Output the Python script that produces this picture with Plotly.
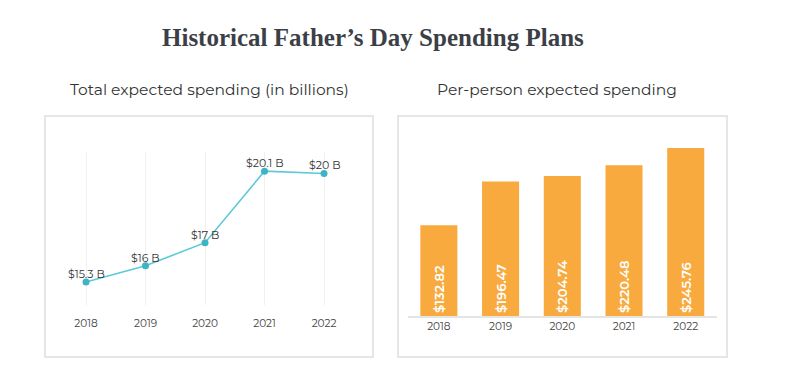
import plotly.graph_objects as go

years = ["2018", "2019", "2020", "2021", "2022"]
total_billions = [15.3, 16, 17, 20.1, 20]
total_labels = ["$15.3 B", "$16 B", "$17 B", "$20.1 B", "$20 B"]
per_person = [132.82, 196.47, 204.74, 220.48, 245.76]
per_person_labels = ["$132.82", "$196.47", "$204.74", "$220.48", "$245.76"]

W, H = 796, 372
SANS = "Montserrat, Lato, 'Open Sans', sans-serif"

def px(x):
    return x / W

def py(y):
    return 1 - y / H

fig = go.Figure()

fig.add_trace(go.Scatter(
    x=years, y=total_billions, mode="lines+markers",
    line=dict(color="#5cc9d8", width=1.6),
    marker=dict(color="#3db4c6", size=7),
    xaxis="x", yaxis="y", hoverinfo="skip", showlegend=False,
))

fig.add_trace(go.Bar(
    x=years, y=per_person, text=per_person_labels,
    textposition="inside", insidetextanchor="start", textangle=-90,
    textfont=dict(color="white", size=13, family=SANS, weight=600),
    marker=dict(color="#f9aa3e", line=dict(width=0)),
    xaxis="x2", yaxis="y2", hoverinfo="skip", showlegend=False,
))

annotations = [
    dict(x=i, y=v, xref="x", yref="y", text=t, showarrow=False,
         xanchor="center", yanchor="middle",
         yshift=8, font=dict(size=11, color="#333333", family=SANS))
    for i, (v, t) in enumerate(zip(total_billions, total_labels))
]
annotations += [
    dict(x=0.5 * (px(162) + px(583)), y=py(37), xref="paper", yref="paper",
         xanchor="center", yanchor="middle",
         text="<b>Historical Father\u2019s Day Spending Plans</b>", showarrow=False,
         font=dict(size=25, color="#3c3f47", family="'Liberation Serif', 'DejaVu Serif', serif")),
    dict(x=px(209), y=py(89), xref="paper", yref="paper",
         xanchor="center", yanchor="middle",
         text="Total expected spending (in billions)", showarrow=False,
         font=dict(size=15.5, color="#333333", family=SANS)),
    dict(x=px(557), y=py(89), xref="paper", yref="paper",
         xanchor="center", yanchor="middle",
         text="Per-person expected spending", showarrow=False,
         font=dict(size=15.5, color="#333333", family=SANS)),
]

shapes = [
    dict(type="rect", xref="paper", yref="paper",
         x0=px(45), x1=px(373), y0=py(357), y1=py(116),
         line=dict(color="#e6e6e6", width=2), fillcolor="rgba(0,0,0,0)"),
    dict(type="rect", xref="paper", yref="paper",
         x0=px(398), x1=px(727), y0=py(357), y1=py(116),
         line=dict(color="#e6e6e6", width=2), fillcolor="rgba(0,0,0,0)"),
]

fig.update_layout(
    width=W, height=H,
    margin=dict(l=0, r=0, t=0, b=0),
    paper_bgcolor="white", plot_bgcolor="white",
    font=dict(family=SANS, color="#444444"),
    bargap=0.4,
    annotations=annotations, shapes=shapes,
    xaxis=dict(domain=[px(44.35), px(365.7)], range=[-0.7, 4.7], type="category",
               showgrid=True, gridcolor="#f0f0f0", gridwidth=1, zeroline=False,
               showline=False, ticks="", tickfont=dict(size=10.5, color="#444444"),
               ticklabelstandoff=10, fixedrange=True),
    yaxis=dict(domain=[py(305), py(152)], range=[14.3, 20.93],
               showgrid=False, zeroline=False, showticklabels=False, fixedrange=True),
    xaxis2=dict(domain=[px(408), px(716.6)], range=[-0.5, 4.5], type="category",
                showgrid=False, zeroline=False, showline=True, linecolor="#e4e4e4",
                linewidth=1.5, ticks="", tickfont=dict(size=10.5, color="#444444"),
                ticklabelstandoff=0, anchor="y2", fixedrange=True),
    yaxis2=dict(domain=[py(316), py(140)], range=[0, 257.3], anchor="x2",
                showgrid=False, zeroline=False, showticklabels=False, fixedrange=True),
)

fig.write_html("out.html", config={"displayModeBar": False},
               post_script="document.body.style.margin='0';document.body.style.overflow='hidden';")
